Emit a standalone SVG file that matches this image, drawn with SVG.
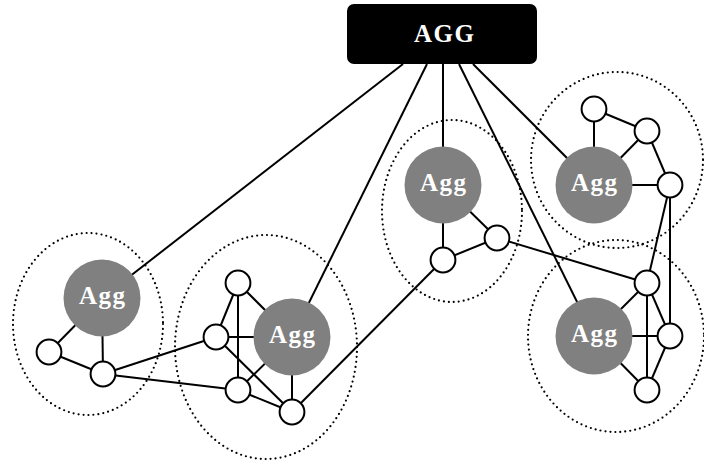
<svg xmlns="http://www.w3.org/2000/svg" width="704" height="465" viewBox="0 0 704 465">
<style>
  .cluster { fill: none; stroke: #000; stroke-width: 2.2; stroke-dasharray: 0 5; stroke-linecap: round; }
  .edge { stroke: #000; stroke-width: 2; fill: none; }
  .agg { fill: #808080; stroke: none; }
  .small { fill: #fff; stroke: #000; stroke-width: 2; }
  .aggtxt { font-family: "Liberation Serif", "Times New Roman", serif; font-weight: bold; font-size: 25px; fill: #fff; text-anchor: middle; }
  .toptxt { font-family: "Liberation Serif", "Times New Roman", serif; font-weight: bold; font-size: 25px; fill: #fff; text-anchor: middle; }
</style>
<rect width="704" height="465" fill="#fff"/>
<g id="clusters">
  <ellipse class="cluster" cx="88" cy="324" rx="75" ry="91"/>
  <ellipse class="cluster" cx="266" cy="347" rx="91" ry="112"/>
  <ellipse class="cluster" cx="452" cy="211" rx="70" ry="91"/>
  <ellipse class="cluster" cx="617" cy="160" rx="86" ry="88"/>
  <ellipse class="cluster" cx="616" cy="336" rx="88" ry="96"/>
</g>
<g id="connectors">
  <line class="edge" x1="403" y1="64" x2="102" y2="298"/>
  <line class="edge" x1="427" y1="64" x2="292" y2="337"/>
  <line class="edge" x1="443" y1="64" x2="443" y2="185"/>
  <line class="edge" x1="459" y1="64" x2="594" y2="336"/>
  <line class="edge" x1="473" y1="64" x2="594" y2="185"/>
  <line class="edge" x1="102" y1="298" x2="49" y2="352"/>
  <line class="edge" x1="102" y1="298" x2="103" y2="374"/>
  <line class="edge" x1="49" y1="352" x2="103" y2="374"/>
  <line class="edge" x1="103" y1="374" x2="216" y2="337"/>
  <line class="edge" x1="103" y1="374" x2="238" y2="390"/>
  <line class="edge" x1="238" y1="283" x2="216" y2="337"/>
  <line class="edge" x1="238" y1="283" x2="238" y2="390"/>
  <line class="edge" x1="238" y1="283" x2="292" y2="337"/>
  <line class="edge" x1="216" y1="337" x2="292" y2="337"/>
  <line class="edge" x1="216" y1="337" x2="292" y2="412"/>
  <line class="edge" x1="238" y1="390" x2="292" y2="337"/>
  <line class="edge" x1="238" y1="390" x2="292" y2="412"/>
  <line class="edge" x1="292" y1="337" x2="292" y2="412"/>
  <line class="edge" x1="292" y1="412" x2="443" y2="260"/>
  <line class="edge" x1="443" y1="185" x2="497" y2="238"/>
  <line class="edge" x1="443" y1="185" x2="443" y2="260"/>
  <line class="edge" x1="443" y1="260" x2="497" y2="238"/>
  <line class="edge" x1="497" y1="238" x2="647" y2="283"/>
  <line class="edge" x1="594" y1="109" x2="594" y2="185"/>
  <line class="edge" x1="594" y1="109" x2="647" y2="131"/>
  <line class="edge" x1="647" y1="131" x2="594" y2="185"/>
  <line class="edge" x1="647" y1="131" x2="670" y2="185"/>
  <line class="edge" x1="594" y1="185" x2="670" y2="185"/>
  <line class="edge" x1="670" y1="185" x2="647" y2="283"/>
  <line class="edge" x1="670" y1="185" x2="670" y2="336"/>
  <line class="edge" x1="647" y1="283" x2="594" y2="336"/>
  <line class="edge" x1="594" y1="336" x2="670" y2="336"/>
  <line class="edge" x1="594" y1="336" x2="647" y2="390"/>
  <line class="edge" x1="647" y1="283" x2="647" y2="390"/>
  <line class="edge" x1="647" y1="283" x2="670" y2="336"/>
  <line class="edge" x1="670" y1="336" x2="647" y2="390"/>
</g>
<g id="AGG">
  <rect x="347" y="4" width="190" height="60" rx="7" fill="#000"/>
  <text class="toptxt" x="444" y="42" textLength="60" lengthAdjust="spacing">AGG</text>
</g>
<g id="agg1">
  <circle class="agg" cx="102" cy="298" r="38.5"/>
  <text class="aggtxt" x="102" y="304" textLength="46" lengthAdjust="spacing">Agg</text>
</g>
<g id="agg2">
  <circle class="agg" cx="292" cy="337" r="38.5"/>
  <text class="aggtxt" x="292" y="343" textLength="46" lengthAdjust="spacing">Agg</text>
</g>
<g id="agg3">
  <circle class="agg" cx="443" cy="185" r="38.5"/>
  <text class="aggtxt" x="443" y="191" textLength="46" lengthAdjust="spacing">Agg</text>
</g>
<g id="agg4">
  <circle class="agg" cx="594" cy="185" r="38.5"/>
  <text class="aggtxt" x="594" y="191" textLength="46" lengthAdjust="spacing">Agg</text>
</g>
<g id="agg5">
  <circle class="agg" cx="594" cy="336" r="38.5"/>
  <text class="aggtxt" x="594" y="342" textLength="46" lengthAdjust="spacing">Agg</text>
</g>
<g id="n1a"><circle class="small" cx="49" cy="352" r="12.4"/></g>
<g id="n1b"><circle class="small" cx="103" cy="374" r="12.4"/></g>
<g id="n2a"><circle class="small" cx="238" cy="283" r="12.4"/></g>
<g id="n2b"><circle class="small" cx="216" cy="337" r="12.4"/></g>
<g id="n2c"><circle class="small" cx="238" cy="390" r="12.4"/></g>
<g id="n2d"><circle class="small" cx="292" cy="412" r="12.4"/></g>
<g id="n3a"><circle class="small" cx="497" cy="238" r="12.4"/></g>
<g id="n3b"><circle class="small" cx="443" cy="260" r="12.4"/></g>
<g id="n4a"><circle class="small" cx="594" cy="109" r="12.4"/></g>
<g id="n4b"><circle class="small" cx="647" cy="131" r="12.4"/></g>
<g id="n4c"><circle class="small" cx="670" cy="185" r="12.4"/></g>
<g id="n5a"><circle class="small" cx="647" cy="283" r="12.4"/></g>
<g id="n5b"><circle class="small" cx="670" cy="336" r="12.4"/></g>
<g id="n5c"><circle class="small" cx="647" cy="390" r="12.4"/></g>
</svg>
